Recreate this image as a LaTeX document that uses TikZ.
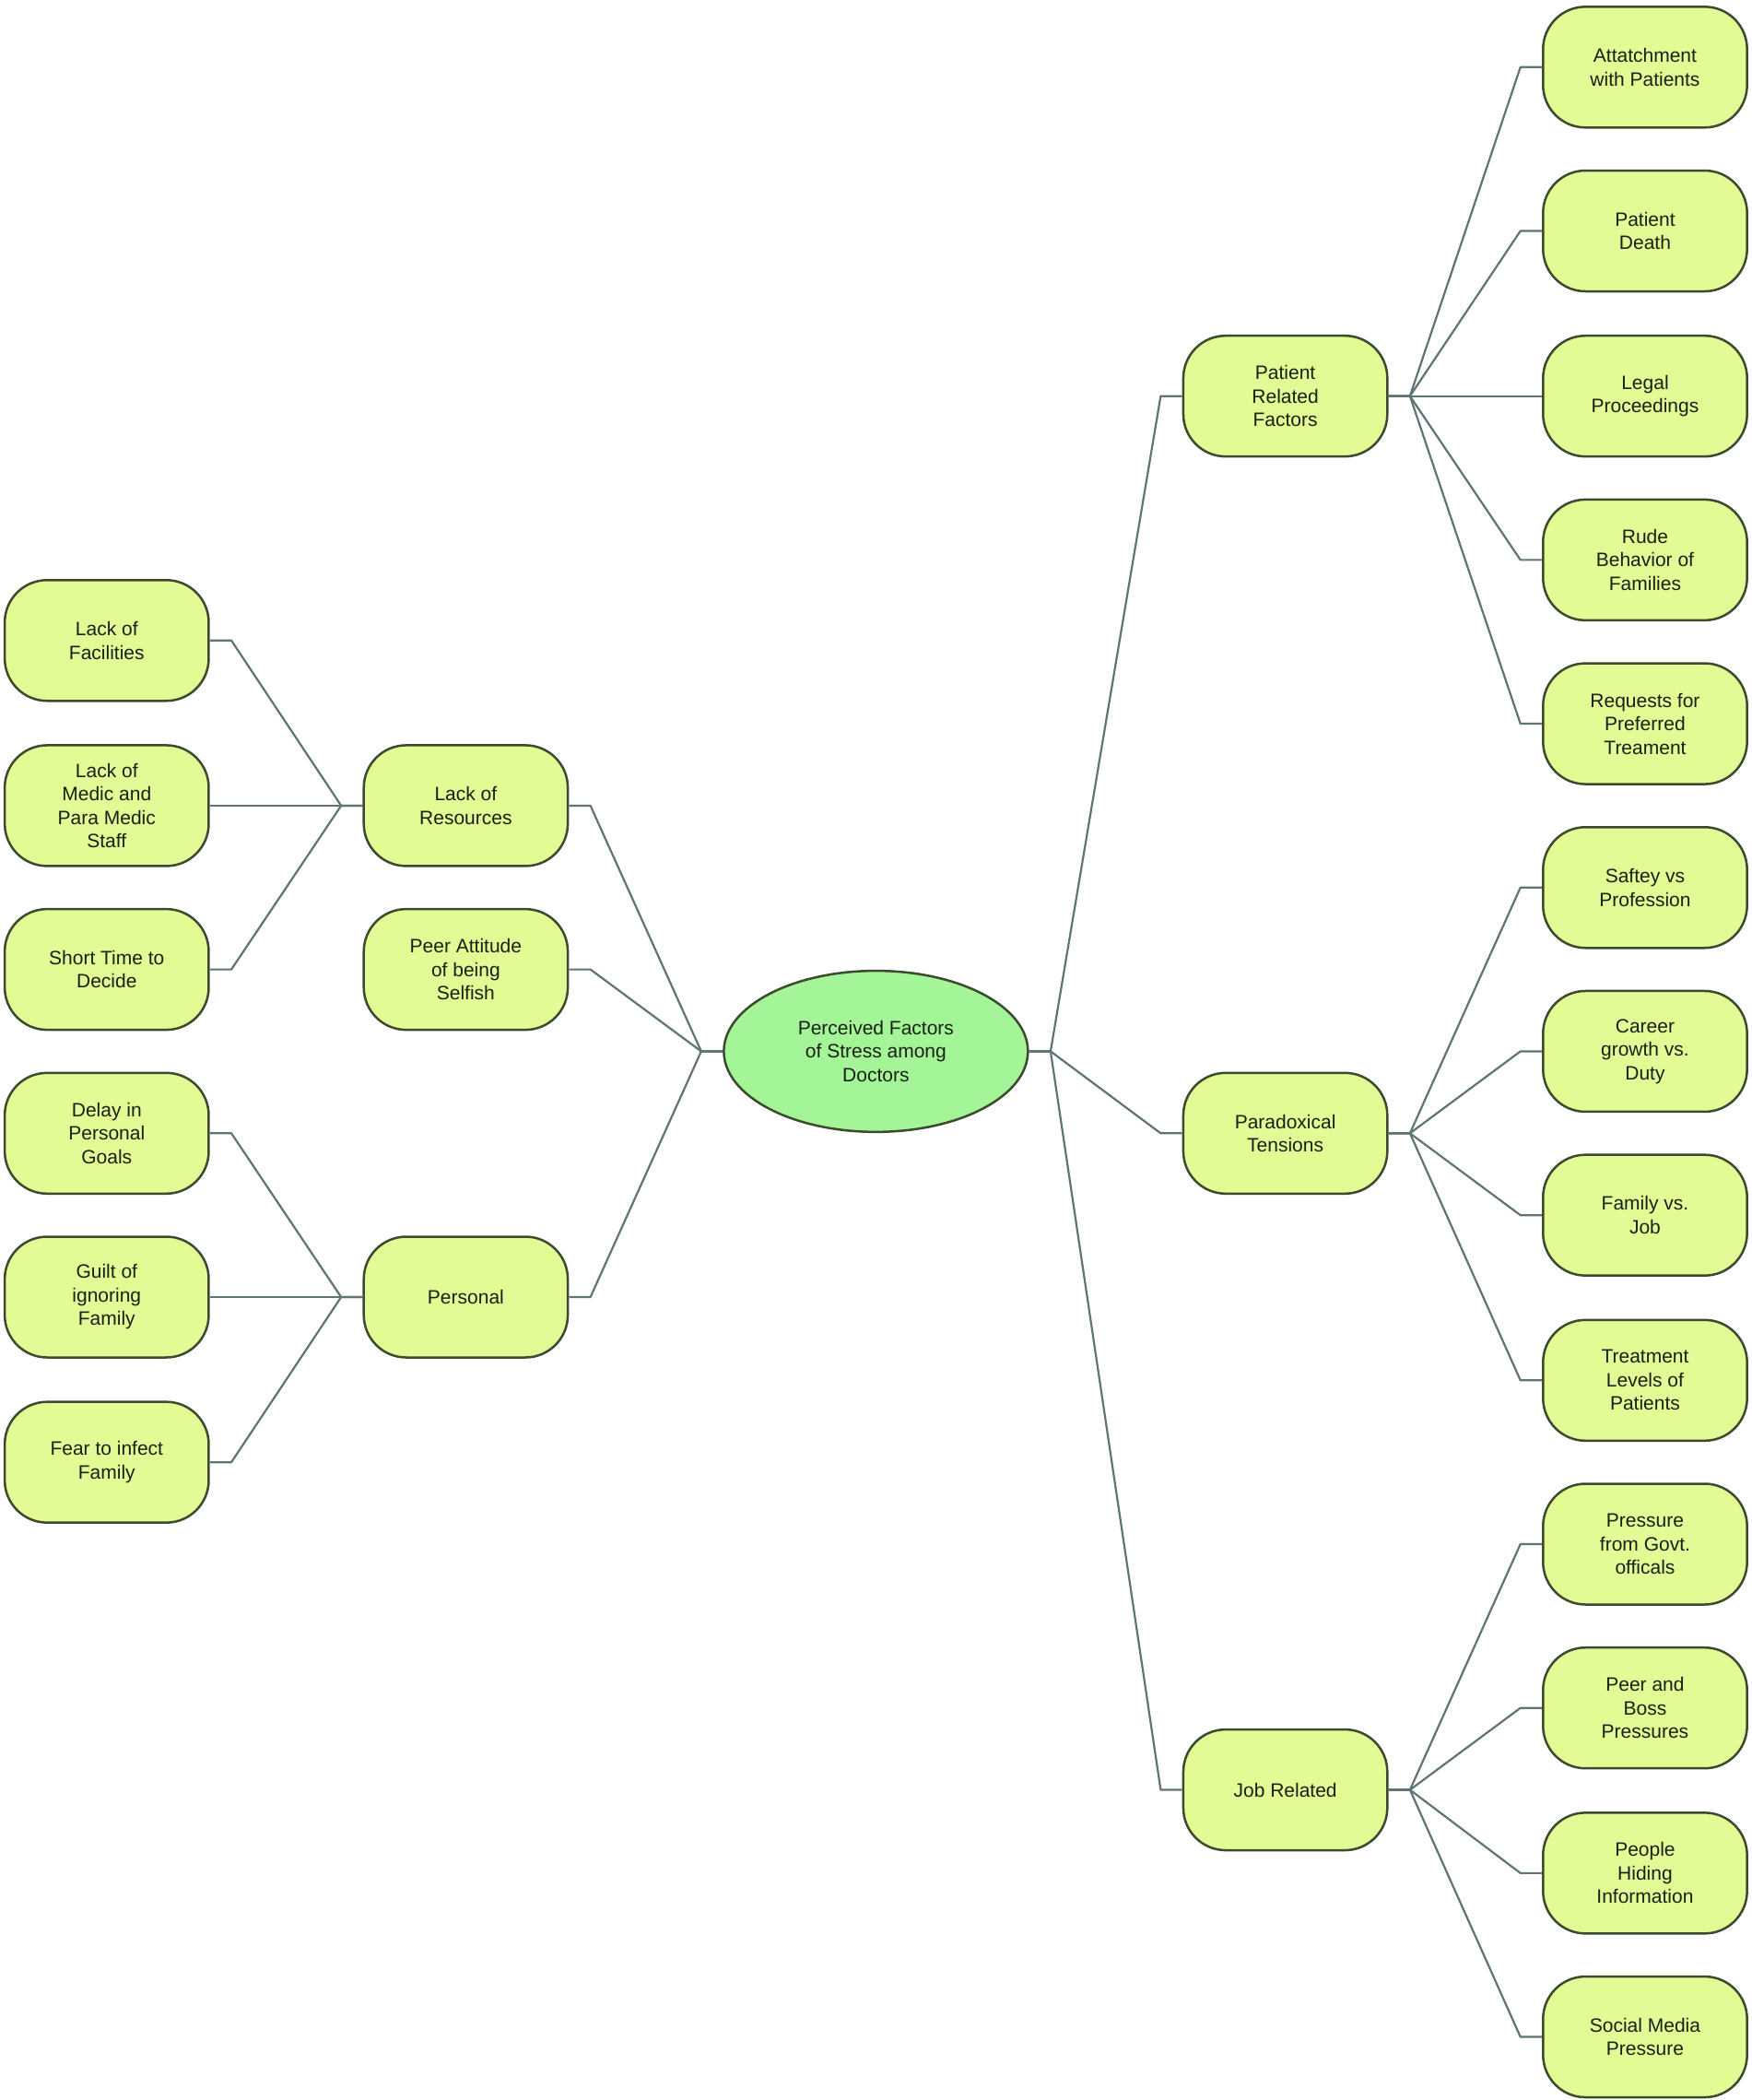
\documentclass[tikz,border=0pt]{standalone}
\usepackage{fontspec}
\setmainfont{Liberation Sans}
\usetikzlibrary{shapes.geometric,calc}
\definecolor{boxfill}{HTML}{E2FB94}
\definecolor{ovalfill}{HTML}{A3F597}
\definecolor{boxline}{HTML}{3C4A30}
\definecolor{edgecol}{HTML}{5F7474}
\definecolor{textcol}{HTML}{1A2014}
\tikzset{
  box/.style={draw=boxline, line width=1.25pt, fill=boxfill, rounded corners=23pt,
    minimum width=110.7pt, minimum height=65.5pt, align=center, inner sep=2pt,
    font=\fontsize{10.5}{12.75}\selectfont, text=textcol},
  root/.style={ellipse, draw=boxline, line width=1.25pt, fill=ovalfill,
    minimum width=165pt, minimum height=87.4pt, align=center, inner sep=0pt,
    font=\fontsize{10.5}{12.75}\selectfont, text=textcol},
  link/.style={draw=edgecol, line width=1.1pt, line join=round}
}
\newcommand\rlink[2]{\draw[link] (#1.east) -- ++(16,0) -- ($(#2.west)+(-16,0)$) -- (#2.west);}
\newcommand\llink[2]{\draw[link] (#1.west) -- ++(-16,0) -- ($(#2.east)+(16,0)$) -- (#2.east);}
\begin{document}
\begin{tikzpicture}[x=0.72835pt, y=-0.72835pt]
\fill[white] (0,0) rectangle (1305,1564);
\useasboundingbox (0,0) rectangle (1305,1564);
% root
\node[root] (c) at (652.5,783) {Perceived Factors\\of Stress among\\Doctors};
% left level 1
\node[box] (res) at (347,600) {Lack of\\Resources};
\node[box] (peer) at (347,722) {Peer Attitude\\of being\\Selfish};
\node[box] (pers) at (347,966) {Personal};
% left leaves
\node[box] (fac) at (79.5,477) {Lack of\\Facilities};
\node[box] (med) at (79.5,600) {Lack of\\Medic and\\Para Medic\\Staff};
\node[box] (sht) at (79.5,722) {Short Time to\\Decide};
\node[box] (del) at (79.5,844) {Delay in\\Personal\\Goals};
\node[box] (gui) at (79.5,966) {Guilt of\\ignoring\\Family};
\node[box] (fea) at (79.5,1089) {Fear to infect\\Family};
% right level 1
\node[box] (prf) at (957.5,295) {Patient\\Related\\Factors};
\node[box] (par) at (957.5,844) {Paradoxical\\Tensions};
\node[box] (job) at (957.5,1333) {Job Related};
% right leaves
\node[box] (r1) at (1225.5,50) {Attatchment\\with Patients};
\node[box] (r2) at (1225.5,172) {Patient\\Death};
\node[box] (r3) at (1225.5,295) {Legal\\Proceedings};
\node[box] (r4) at (1225.5,417) {Rude\\Behavior of\\Families};
\node[box] (r5) at (1225.5,539) {Requests for\\Preferred\\Treament};
\node[box] (r6) at (1225.5,661) {Saftey vs\\Profession};
\node[box] (r7) at (1225.5,783) {Career\\growth vs.\\Duty};
\node[box] (r8) at (1225.5,905) {Family vs.\\Job};
\node[box] (r9) at (1225.5,1028) {Treatment\\Levels of\\Patients};
\node[box] (r10) at (1225.5,1150) {Pressure\\from Govt.\\officals};
\node[box] (r11) at (1225.5,1272) {Peer and\\Boss\\Pressures};
\node[box] (r12) at (1225.5,1395) {People\\Hiding\\Information};
\node[box] (r13) at (1225.5,1517) {Social Media\\Pressure};
% connectors
\rlink{c}{prf}\rlink{c}{par}\rlink{c}{job}
\llink{c}{res}\llink{c}{peer}\llink{c}{pers}
\llink{res}{fac}\llink{res}{med}\llink{res}{sht}
\llink{pers}{del}\llink{pers}{gui}\llink{pers}{fea}
\rlink{prf}{r1}\rlink{prf}{r2}\rlink{prf}{r3}\rlink{prf}{r4}\rlink{prf}{r5}
\rlink{par}{r6}\rlink{par}{r7}\rlink{par}{r8}\rlink{par}{r9}
\rlink{job}{r10}\rlink{job}{r11}\rlink{job}{r12}\rlink{job}{r13}
\end{tikzpicture}
\end{document}
